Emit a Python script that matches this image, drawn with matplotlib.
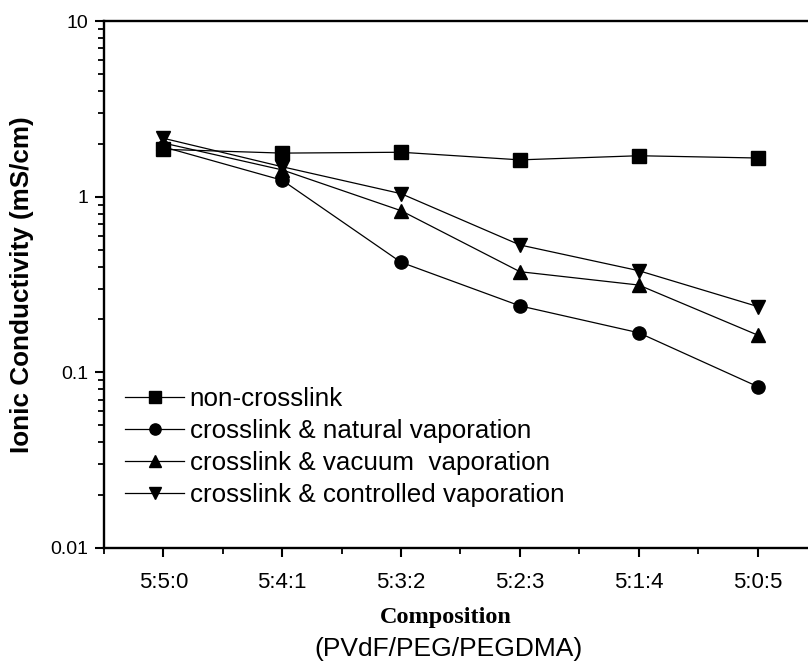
import matplotlib
matplotlib.use("Agg")
import matplotlib.pyplot as plt
from matplotlib.ticker import FixedLocator, NullFormatter, LogLocator

compositions = ["5:5:0", "5:4:1", "5:3:2", "5:2:3", "5:1:4", "5:0:5"]

non_crosslink = [1.86, 1.77, 1.79, 1.62, 1.71, 1.66]
natural_vap = [1.92, 1.24, 0.423, 0.239, 0.168, 0.083]
vacuum_vap = [2.02, 1.42, 0.832, 0.374, 0.314, 0.163]
controlled_vap = [2.15, 1.48, 1.04, 0.531, 0.379, 0.237]

series = [
    ("non-crosslink", non_crosslink, "s"),
    ("crosslink & natural vaporation", natural_vap, "o"),
    ("crosslink & vacuum  vaporation", vacuum_vap, "^"),
    ("crosslink & controlled vaporation", controlled_vap, "v"),
]

plt.rcParams["font.family"] = ["Liberation Sans", "DejaVu Sans"]

fig = plt.figure(figsize=(8.08, 6.65), dpi=100)
ax = fig.add_axes([104 / 808, 1 - 548 / 665, 713 / 808, 527 / 665])

x = list(range(len(compositions)))
for label, values, marker in series:
    ax.plot(x, values, color="black", linewidth=0.9, marker=marker,
            markersize=9.5, label=label)

ax.set_yscale("log")
ax.set_ylim(0.01, 10)
ax.set_xlim(-0.5, 5.5)
ax.set_yticks([0.01, 0.1, 1, 10])
ax.set_yticklabels(["0.01", "0.1", "1", "10"])
ax.yaxis.set_minor_locator(LogLocator(base=10, subs=range(2, 10)))
ax.yaxis.set_minor_formatter(NullFormatter())

ax.set_xticks(x)
ax.set_xticklabels(compositions)
ax.xaxis.set_minor_locator(FixedLocator([i - 0.5 for i in range(len(x) + 1)]))

for side in ["left", "bottom", "top", "right"]:
    ax.spines[side].set_linewidth(1.7)

ax.tick_params(axis="both", which="major", direction="out", length=6.5,
               width=1.5, pad=6)
ax.tick_params(axis="both", which="minor", direction="out", length=4,
               width=1.3)
ax.tick_params(axis="x", which="major", labelsize=16, pad=11)
ax.tick_params(axis="y", which="major", labelsize=14, pad=5)

fig.text(22 / 808, 1 - 285 / 665, "Ionic Conductivity (mS/cm)",
         rotation=90, ha="center", va="center", fontsize=18.8,
         fontweight="bold")

fig.text(446 / 808, 1 - 617 / 665, "Composition", ha="center", va="center",
         fontsize=17.5, fontweight="bold", family="Liberation Serif")
fig.text(448 / 808, 1 - 649 / 665, "(PVdF/PEG/PEGDMA)", ha="center",
         va="center", fontsize=19)

ax.legend(loc="upper left", bbox_to_anchor=(0.029, 0.305), frameon=False,
          fontsize=18.7, handlelength=2.3, handletextpad=0.2,
          labelspacing=0.3, borderaxespad=0, borderpad=0, numpoints=1,
          markerscale=0.85)

fig.savefig("out.png", dpi=100)
